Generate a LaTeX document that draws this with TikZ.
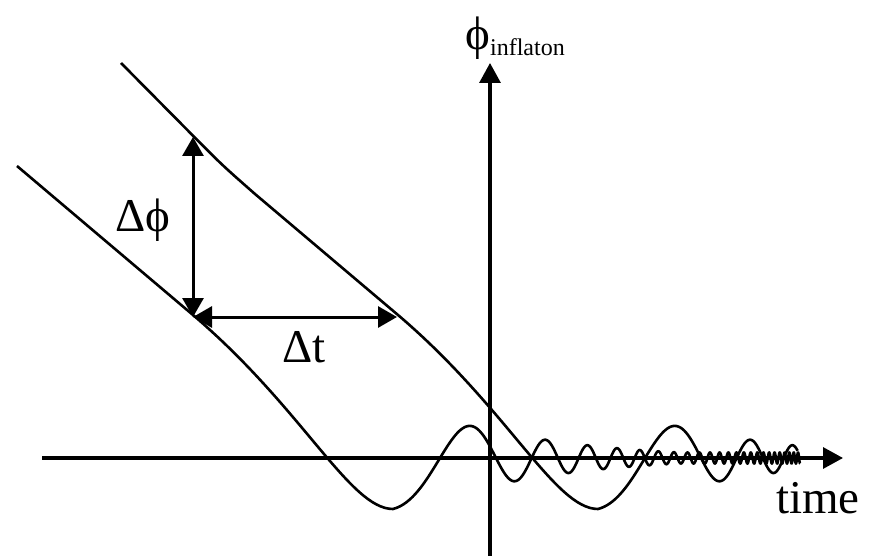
\documentclass[tikz,border=0pt]{standalone}
\usepackage{fontspec}
\setmainfont{Liberation Serif}
\usetikzlibrary{arrows.meta}
\begin{document}
\begin{tikzpicture}[x=0.5pt,y=-0.5pt,
  axis/.style={line width=1.6pt, -{Triangle[length=10pt,width=10.5pt]}},
  curve/.style={line width=1.3pt, line join=round},
  dim/.style={line width=1.5pt, {Triangle[length=9.5pt,width=10.5pt]}-{Triangle[length=9.5pt,width=10.5pt]}},
  lbl/.style={font=\fontsize{23.5}{28}\selectfont, inner sep=0pt, anchor=base}]
\path[use as bounding box] (0,0) rectangle (874,556);
% axes
\coordinate (xs) at (42,458);
\coordinate (xe) at (843,458);
\coordinate (ys) at (490,560);
\coordinate (ye) at (490,63);
\draw[axis] (xs) -- (xe);
\draw[axis] (ys) -- (ye);
% lower curve
\draw[curve] (17,166) -- (193,315) .. controls (303,408.5) and (350,509) .. (393,509)
  -- plot[domain=0:48, samples=1600, variable=\t]
  ({393+100*ln(1+\t/0.833)}, {458+max(51/(1+0.6*\t),5.5)*cos(180*\t)});
% upper curve (shifted by Delta t)
\draw[curve] (121,63) -- (192,134.7) .. controls (222,165) .. (255,194) -- (398,315)
  .. controls (508,408.5) and (555,509) .. (598,509)
  -- plot[domain=0:5.3, samples=200, variable=\t]
  ({598+100*ln(1+\t/0.833)}, {458+max(51/(1+0.6*\t),5.5)*cos(180*\t)});
% Delta arrows
\coordinate (ptop) at (193,137);
\coordinate (pbot) at (193,317);
\coordinate (pright) at (397,317);
\draw[dim] (pbot) -- (ptop);
\draw[dim] (pbot) -- (pright);
% labels
\node[lbl] (dphi) at (143,232) {Δϕ};
\node[lbl] (dt) at (304,362) {Δt};
\node[lbl] (time) at (818,513) {time};
\node[inner sep=0pt, anchor=base west, font=\fontsize{23.5}{28}\selectfont] (phi) at (465,50)
  {ϕ\raisebox{-3pt}{\fontsize{12}{14}\selectfont inflaton}};
\end{tikzpicture}
\end{document}
